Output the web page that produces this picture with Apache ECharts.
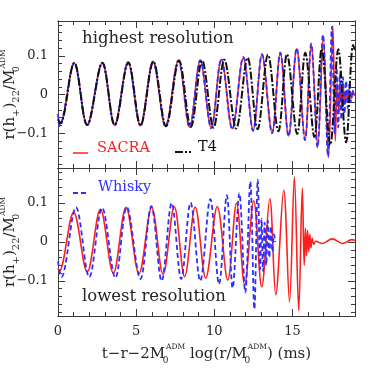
<!DOCTYPE html>
<html>
<head>
<meta charset="utf-8">
<script src="https://cdn.jsdelivr.net/npm/echarts@6/dist/echarts.min.js"></script>
<style>
  html, body { margin: 0; padding: 0; background: #fff; }
  #chart { width: 374px; height: 374px; }
</style>
</head>
<body>
<div id="chart"></div>
<script>
// peaks / troughs: [time (ms), r h22 / M]
const sacraHigh = [
    [0, -0.062], [0.15, -0.073], [1.04, 0.082], [1.86, -0.079], [2.83, 0.082], [3.62, -0.079],
    [4.48, 0.083], [5.27, -0.08], [6.08, 0.085], [6.88, -0.082], [7.7, 0.088], [8.42, -0.084],
    [9.1, 0.088], [9.8, -0.086], [10.45, 0.091], [11.15, -0.088], [11.85, 0.095], [12.48, -0.092],
    [13.05, 0.103], [13.69, -0.099], [14.22, 0.107], [14.75, -0.107], [15.27, 0.118], [15.8, -0.116],
    [16.2, 0.13], [16.62, -0.135], [16.97, 0.15], [17.3, -0.163], [17.58, 0.178], [17.74, -0.12],
    [17.86, 0.03], [17.96, -0.045], [18.06, 0.02], [18.16, -0.035], [18.26, 0.015], [18.36, -0.025],
    [18.46, 0.01], [18.56, -0.018], [18.66, 0.008], [18.78, -0.01], [18.9, 0.004], [19, -0.004]
]
const whiskyHigh = [
    [0, -0.05], [0.1, -0.082], [1.04, 0.081], [1.86, -0.08], [2.83, 0.082], [3.62, -0.08],
    [4.48, 0.083], [5.27, -0.08], [6.08, 0.085], [6.88, -0.083], [7.7, 0.088], [8.42, -0.085],
    [9.1, 0.089], [9.8, -0.087], [10.45, 0.092], [11.15, -0.09], [11.85, 0.097], [12.48, -0.094],
    [13.05, 0.104], [13.7, -0.1], [14.22, 0.108], [14.75, -0.108], [15.27, 0.12], [15.8, -0.118],
    [16.2, 0.132], [16.6, -0.137], [16.95, 0.155], [17.27, -0.16], [17.52, 0.175], [17.7, -0.1],
    [17.82, 0.07], [17.93, -0.085], [18.03, 0.055], [18.13, -0.065], [18.23, 0.045], [18.33, -0.05],
    [18.43, 0.035], [18.53, -0.035], [18.63, 0.025], [18.73, -0.02], [18.83, 0.012], [18.92, 0]
]
const t4High = [
    [0, -0.064], [0.15, -0.075], [1.04, 0.082], [1.87, -0.079], [2.84, 0.082], [3.63, -0.079],
    [4.5, 0.083], [5.28, -0.08], [6.1, 0.085], [6.91, -0.082], [7.74, 0.088], [8.5, -0.084],
    [9.22, 0.088], [9.95, -0.086], [10.64, 0.09], [11.4, -0.088], [12.13, 0.095], [12.77, -0.09],
    [13.43, 0.103], [14.1, -0.095], [14.65, 0.104], [15.3, -0.102], [15.82, 0.108], [16.4, -0.11],
    [16.87, 0.118], [17.42, -0.13], [17.93, 0.117], [18.43, -0.124], [18.88, 0.128], [19, 0.115]
]
const sacraLow = [
    [0, -0.068], [0.08, -0.075], [1.0, 0.076], [1.87, -0.077], [2.71, 0.084], [3.54, -0.08],
    [4.35, 0.089], [5.18, -0.081], [5.99, 0.089], [6.72, -0.083], [7.44, 0.091], [8.1, -0.089],
    [8.78, 0.09], [9.45, -0.093], [10.19, 0.091], [10.86, -0.098], [11.42, 0.1], [11.94, -0.11],
    [12.52, 0.106], [13.03, -0.115], [13.55, 0.111], [13.93, -0.135], [14.44, 0.133], [14.81, -0.154],
    [15.12, 0.167], [15.4, -0.176], [15.63, 0.138], [15.75, -0.06], [15.83, 0.035], [15.9, -0.035],
    [15.97, 0.03], [16.04, -0.025], [16.11, 0.02], [16.18, -0.015], [16.26, 0.01], [16.36, -0.006],
    [16.5, 0.002], [16.9, -0.004], [17.55, 0.008], [18.2, -0.004], [18.8, 0.006], [19, 0.004]
]
const whiskyLow = [
    [0, -0.05], [0.22, -0.09], [1.15, 0.089], [2.0, -0.09], [2.82, 0.088], [3.67, -0.092],
    [4.4, 0.09], [5.27, -0.095], [5.97, 0.092], [6.63, -0.1], [7.27, 0.1], [7.88, -0.095],
    [8.48, 0.101], [9.1, -0.1], [9.74, 0.11], [10.3, -0.108], [10.8, 0.12], [11.17, -0.118],
    [11.6, 0.125], [11.98, -0.13], [12.3, 0.155], [12.56, -0.172], [12.78, 0.16], [12.93, -0.07],
    [13.02, 0.06], [13.12, -0.075], [13.22, 0.05], [13.32, -0.06], [13.42, 0.055], [13.52, -0.04],
    [13.62, 0.04], [13.72, -0.025], [13.82, 0.02], [13.9, 0]
]

const xMajor = [0, 5, 10, 15]
const xMinor = [1, 2, 3, 4, 6, 7, 8, 9, 11, 12, 13, 14, 16, 17, 18]
const yMajor = [-0.1, 0, 0.1]
const yMinor = [-0.18, -0.16, -0.14, -0.12, -0.08, -0.06, -0.04, -0.02,
    0.02, 0.04, 0.06, 0.08, 0.12, 0.14, 0.16, 0.18]

const serif = '"DejaVu Serif", "Liberation Serif", serif'
const ink = '#262626'
const frame = '#3a3a3a'
const red = '#ff1f1f'
const blue = '#2f2fff'
const black = '#111'
const dashDot = [8, 2, 2, 2]

// sub/superscript pieces for the axis names
const rich = {
    n: { fontFamily: serif, fontSize: 15, color: ink, lineHeight: 22 },
    b: { fontFamily: serif, fontSize: 10, color: ink, verticalAlign: 'bottom' },
    z: { fontFamily: serif, fontSize: 9, color: ink, verticalAlign: 'bottom', width: 1 },
    t: { fontFamily: serif, fontSize: 7.5, color: ink, verticalAlign: 'top' },
}
const yName = '{n|r(h}{b|+}{n|)}{b|22}{n|/M}{z|0}{t|ADM}'
const xName = '{n|t\u2212r\u22122M}{z|0}{t|ADM}{n| log(r/M}{z|0}{t|ADM}{n|) (ms)}'

function xAxes(grid, labels) {
    const base = {
        type: 'value', gridIndex: grid, min: 0, max: 19,
        splitLine: { show: false },
        axisLine: { onZero: false, lineStyle: { color: frame, width: 1 } },
    }
    const tick = (vals, len) => ({ inside: true, length: len, customValues: vals, lineStyle: { color: frame } })
    return [
        Object.assign({}, base, {
            position: 'bottom', axisTick: tick(xMajor, 7),
            axisLabel: { show: labels, customValues: xMajor, margin: 9, color: ink, fontFamily: serif, fontSize: 13 },
            name: labels ? xName : '', nameLocation: 'middle', nameGap: 27, nameMoveOverlap: false,
            nameTextStyle: { rich: rich },
        }),
        Object.assign({}, base, { position: 'bottom', axisTick: tick(xMinor, 4), axisLabel: { show: false } }),
        Object.assign({}, base, { position: 'top', axisTick: tick(xMajor, 7), axisLabel: { show: false } }),
        Object.assign({}, base, { position: 'top', axisTick: tick(xMinor, 4), axisLabel: { show: false } }),
    ]
}

function yAxes(grid) {
    const base = {
        type: 'value', gridIndex: grid, min: -0.19, max: 0.19,
        splitLine: { show: false },
        axisLine: { onZero: false, lineStyle: { color: frame, width: 1 } },
    }
    const tick = (vals, len) => ({ inside: true, length: len, customValues: vals, lineStyle: { color: frame } })
    return [
        Object.assign({}, base, {
            position: 'left', axisTick: tick(yMajor, 7),
            axisLabel: {
                customValues: yMajor, margin: 10, color: ink, fontFamily: serif, fontSize: 13,
                formatter: v => v == 0 ? '0' : (v < 0 ? '\u2212' : '') + Math.abs(v),
            },
            name: yName, nameLocation: 'middle', nameGap: 37, nameRotate: 90, nameMoveOverlap: false,
            nameTextStyle: { rich: rich },
        }),
        Object.assign({}, base, { position: 'left', axisTick: tick(yMinor, 4), axisLabel: { show: false } }),
        Object.assign({}, base, { position: 'right', axisTick: tick(yMajor, 7), axisLabel: { show: false } }),
        Object.assign({}, base, { position: 'right', axisTick: tick(yMinor, 4), axisLabel: { show: false } }),
    ]
}

function wave(name, data, grid, color, width, type) {
    return {
        name: name, type: 'line', data: data,
        xAxisIndex: grid * 4, yAxisIndex: grid * 4,
        symbol: 'none', smooth: 0.35,
        lineStyle: { color: color, width: width, type: type },
        itemStyle: { color: color },
        emphasis: { disabled: true },
    }
}

// key: a short line sample followed by the series name
function key(name, x0, x1, lineY, textX, textY, color, width, dash) {
    return [
        { type: 'line', shape: { x1: x0, y1: lineY, x2: x1, y2: lineY },
          style: { stroke: color, lineWidth: width, lineDash: dash } },
        { type: 'text', x: textX, y: textY,
          style: { text: name, fill: color, fontFamily: serif, fontSize: 14.5, verticalAlign: 'middle' } },
    ]
}

const chart = echarts.init(document.getElementById('chart'), null, { renderer: 'canvas' })
chart.setOption({
    animation: false,
    backgroundColor: '#fff',
    grid: [
        { left: 58, top: 21, width: 297, height: 147, containLabel: false, outerBoundsMode: 'none' },
        { left: 58, top: 168, width: 297, height: 148, containLabel: false, outerBoundsMode: 'none' },
    ],
    xAxis: xAxes(0, false).concat(xAxes(1, true)),
    yAxis: yAxes(0).concat(yAxes(1)),
    graphic: [
        { type: 'text', x: 82, y: 39, style: { text: 'highest resolution', fill: ink, fontFamily: serif, fontSize: 16.5, verticalAlign: 'middle' } },
        { type: 'text', x: 82, y: 297, style: { text: 'lowest resolution', fill: ink, fontFamily: serif, fontSize: 16.5, verticalAlign: 'middle' } },
    ].concat(
        key('SACRA', 73, 88, 153, 97, 148, red, 1.5, null),
        key('T4', 175, 191, 152, 198, 147, black, 2, dashDot),
        key('Whisky', 73, 87, 193, 98, 187, blue, 1.8, [5, 3])
    ),
    series: [
        wave('SACRA', sacraHigh, 0, red, 1.6, 'solid'),
        wave('Whisky', whiskyHigh, 0, blue, 1.8, [5, 3]),
        wave('T4', t4High, 0, black, 2, dashDot),
        wave('SACRA', sacraLow, 1, red, 1.6, 'solid'),
        wave('Whisky', whiskyLow, 1, blue, 1.8, [5, 3]),
    ],
})
</script>
</body>
</html>
